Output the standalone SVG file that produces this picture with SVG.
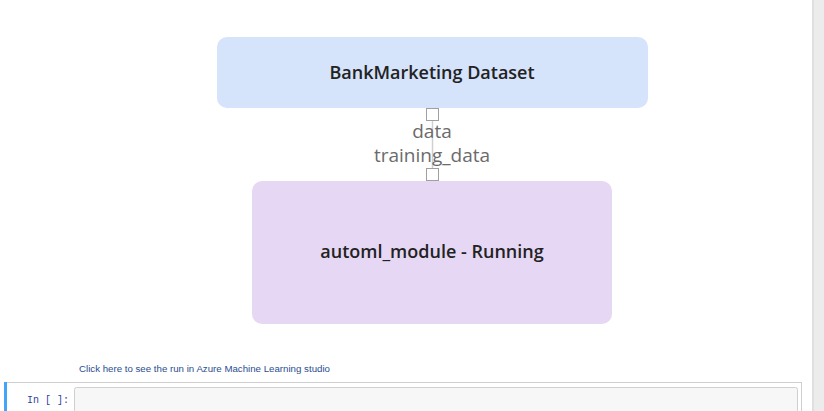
<svg xmlns="http://www.w3.org/2000/svg" width="824" height="411" viewBox="0 0 824 411">
<style>
.node-label{font-family:"Open Sans","Noto Sans",sans-serif;font-size:18px;font-weight:600;fill:#222222;text-anchor:middle}
.port-label{font-family:"Open Sans","Noto Sans",sans-serif;font-size:19px;fill:#6b6b6b;text-anchor:middle}
.port{fill:#ffffff;stroke:#a0a0a0;stroke-width:1}
</style>
<rect x="0" y="0" width="824" height="411" fill="#ffffff"/>
<rect x="812" y="0" width="12" height="411" fill="#ececec"/>
<rect x="812" y="0" width="2" height="411" fill="#e0e0e0"/>
<g id="connectors">
<line x1="432.5" y1="108" x2="432.5" y2="181" stroke="#d0d0d0" stroke-width="1.5"/>
</g>
<g id="node-dataset">
<rect x="217" y="37" width="431" height="71" rx="10" fill="#d5e3fb"/>
<text class="node-label" x="432" y="79">BankMarketing Dataset</text>
<rect class="port" x="426.5" y="108.5" width="12" height="12"/>
<text class="port-label" x="432" y="138">data</text>
</g>
<g id="node-automl">
<rect x="252" y="181" width="360" height="143" rx="10" fill="#e6d8f5"/>
<text class="node-label" x="432" y="258">automl_module - Running</text>
<rect class="port" x="426.5" y="168.5" width="12" height="12"/>
<text class="port-label" x="432" y="162">training_data</text>
</g>
<text x="79" y="372" font-family="Liberation Sans, Arial, sans-serif" font-size="9.7" fill="#2a4d8f">Click here to see the run in Azure Machine Learning studio</text>
<g id="cell">
<rect x="4.5" y="382.5" width="797" height="32" fill="#ffffff" stroke="#cfcfcf"/>
<rect x="4" y="382" width="3" height="29" fill="#42a5f5"/>
<rect x="74.5" y="387.5" width="723" height="25" rx="2" fill="#f7f7f7" stroke="#cfcfcf"/>
<text x="27" y="403" font-family="Liberation Mono, monospace" font-size="10" fill="#303f9f">In [ ]:</text>
</g>
</svg>
